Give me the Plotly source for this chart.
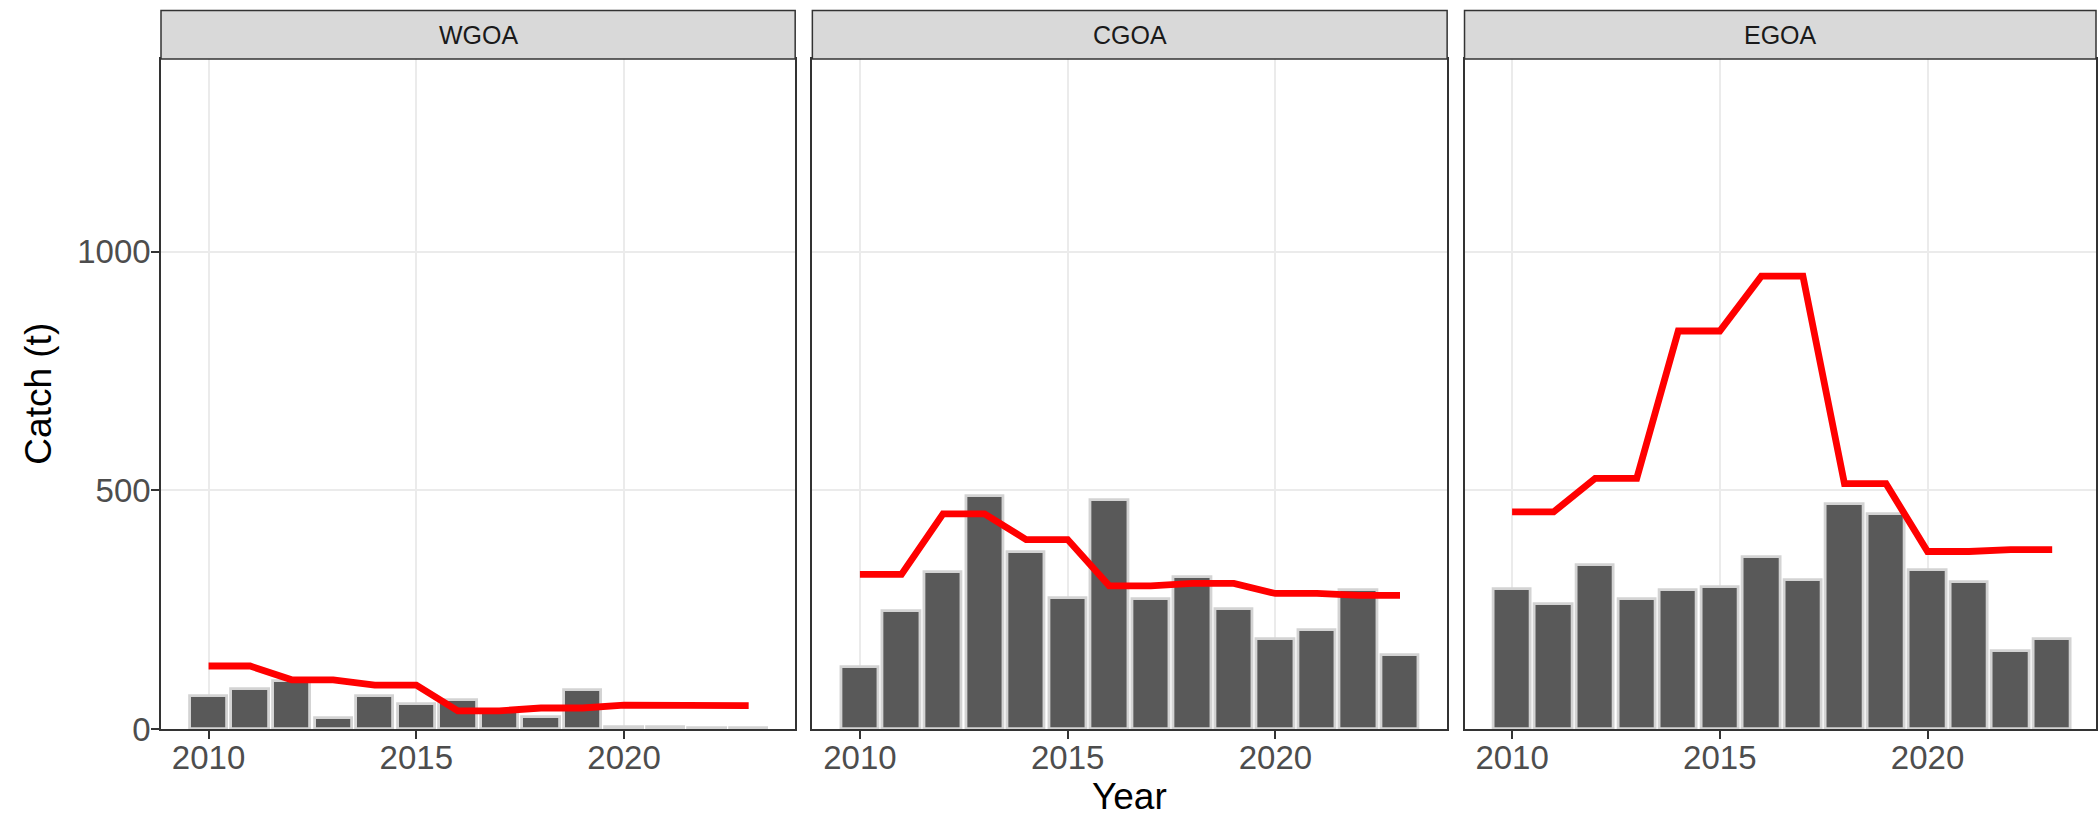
import plotly.graph_objects as go

# Annual catch (bars) and catch limit (red line) by management area
years = list(range(2010, 2024))
areas = ["WGOA", "CGOA", "EGOA"]

wgoa_catch = [70, 84, 100, 24, 70, 52, 60, 35, 25, 81, 5, 4, 3, 3]
wgoa_limit = [132, 132, 103, 103, 92, 92, 38, 38, 44, 44, 50, 50, 49, 49]

cgoa_catch = [130, 248, 328, 488, 371, 275, 480, 273, 319, 251, 188, 207, 291, 155]
cgoa_limit = [324, 324, 451, 451, 397, 397, 300, 300, 305, 305, 284, 284, 280, 280]

egoa_catch = [294, 261, 344, 273, 291, 298, 361, 313, 472, 451, 333, 308, 164, 188]
egoa_limit = [455, 455, 525, 525, 834, 834, 949, 949, 514, 514, 372, 372, 376, 376]

catch_by_area = [wgoa_catch, cgoa_catch, egoa_catch]
limit_by_area = [wgoa_limit, cgoa_limit, egoa_limit]

y_ticks = [0, 500, 1000]
x_ticks = [2010, 2015, 2020]

FONT = "Liberation Sans, Arial, sans-serif"
W, H = 2098, 817
L, R, T, B = 160.5, 0, 58.5, 87.5
plot_w = W - L - R
plot_h = H - T - B

# panel pixel extents (left, right)
panels_px = [(160.5, 795.5), (812.7, 1448.3), (1465.7, 2098.0)]
px_per_year = 41.6
x0 = 2008.855


def dom(a, b):
    return [(a - L) / plot_w, (b - L) / plot_w]


fig = go.Figure()

for i, (area, c, lim) in enumerate(zip(areas, catch_by_area, limit_by_area)):
    sfx = "" if i == 0 else str(i + 1)
    fig.add_trace(go.Bar(
        x=years, y=c, width=0.9,
        marker=dict(color="#595959", line=dict(color="#D3D3D3", width=2.8)),
        xaxis="x" + sfx, yaxis="y" + sfx, showlegend=False,
    ))
    fig.add_trace(go.Scatter(
        x=years, y=lim, mode="lines",
        line=dict(color="#FF0000", width=6.8),
        xaxis="x" + sfx, yaxis="y" + sfx, showlegend=False,
    ))

    a, b = panels_px[i]
    x1 = x0 + (b - a) / px_per_year
    common_x = dict(
        domain=dom(a, b), range=[x0, x1],
        tickvals=x_ticks, ticktext=[str(v) for v in x_ticks],
        ticks="outside", ticklen=8, tickwidth=1.5, tickcolor="#333333",
        tickfont=dict(family=FONT, size=33, color="#4D4D4D"),
        ticklabelstandoff=-9,
        showgrid=True, gridcolor="#EBEBEB", gridwidth=2.2,
        showline=True, mirror=True, linecolor="#333333", linewidth=1.5,
        zeroline=False, anchor="y" + sfx,
    )
    common_y = dict(
        domain=[0, 1], range=[0, 1404],
        tickvals=y_ticks,
        showgrid=True, gridcolor="#EBEBEB", gridwidth=2.2,
        showline=True, mirror=True, linecolor="#333333", linewidth=1.5,
        zeroline=False, anchor="x" + sfx,
    )
    if i == 0:
        common_y.update(
            ticks="outside", ticklen=8, tickwidth=1.5, tickcolor="#333333",
            ticktext=[str(v) for v in y_ticks],
            tickfont=dict(family=FONT, size=33, color="#4D4D4D"),
            ticklabelstandoff=-6,
        )
    else:
        common_y.update(showticklabels=False, ticks="")
    fig.layout["xaxis" + sfx] = common_x
    fig.layout["yaxis" + sfx] = common_y

    # facet strip
    d = dom(a, b)
    strip_top = 1 + (T - 10) / plot_h
    fig.add_shape(type="rect", xref="paper", yref="paper",
                  x0=d[0], x1=d[1], y0=1, y1=strip_top,
                  fillcolor="#D9D9D9", line=dict(color="#333333", width=1.5),
                  layer="above")
    fig.add_annotation(xref="paper", yref="paper", x=(d[0] + d[1]) / 2,
                       y=(1 + strip_top) / 2, text=area, showarrow=False,
                       xanchor="center", yanchor="middle",
                       font=dict(family=FONT, size=25, color="#1A1A1A"))

# axis titles
fig.add_annotation(xref="paper", yref="paper",
                   x=(1130.7 - L) / plot_w, y=-(797 - (T + plot_h)) / plot_h,
                   text="Year", showarrow=False, xanchor="center", yanchor="middle",
                   font=dict(family=FONT, size=37, color="#000000"))
fig.add_annotation(xref="paper", yref="paper",
                   x=(37 - L) / plot_w, y=0.5,
                   text="Catch (t)", showarrow=False, textangle=-90,
                   xanchor="center", yanchor="middle",
                   font=dict(family=FONT, size=37, color="#000000"))

fig.update_layout(
    width=W, height=H,
    margin=dict(l=L, r=R, t=T, b=B, pad=0),
    paper_bgcolor="white", plot_bgcolor="white",
    barmode="overlay", bargap=0,
    showlegend=False,
)

fig.write_html("out.html")
